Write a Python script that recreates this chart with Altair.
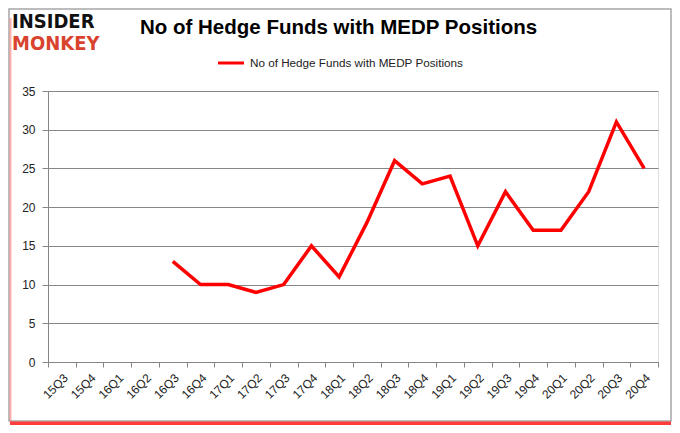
import altair as alt
import pandas as pd

quarters = ["15Q3", "15Q4", "16Q1", "16Q2", "16Q3", "16Q4", "17Q1", "17Q2", "17Q3",
            "17Q4", "18Q1", "18Q2", "18Q3", "18Q4", "19Q1", "19Q2", "19Q3", "19Q4",
            "20Q1", "20Q2", "20Q3", "20Q4"]
data_quarters = quarters[4:]
funds = [13, 10, 10, 9, 10, 15, 11, 18, 26, 23, 24, 15, 22, 17, 17, 22, 31, 25]
series_name = "No of Hedge Funds with MEDP Positions"
y_ticks = [0, 5, 10, 15, 20, 25, 30, 35]

df = pd.DataFrame({"quarter": data_quarters, "funds": funds})
one = alt.Data(values=[{}])

W, H = 610, 271
PL, PT = 40, 83
OX, OY = PL + 8, PT + 8  # image coords -> plot coords

frame = alt.Chart(one).mark_rect(fillOpacity=0, stroke="#a6a6a6", strokeWidth=1.5, clip=False).encode(
    x=alt.value(-PL + 1), x2=alt.value(W + 13), y=alt.value(-PT + 1), y2=alt.value(H + 59))
left_glow = alt.Chart(one).mark_rule(color="#ff9090", strokeWidth=2, opacity=0.7, clip=False).encode(
    x=alt.value(-PL + 2.5), y=alt.value(-PT + 10), y2=alt.value(H + 60))
shadow = alt.Chart(one).mark_rule(color="#ff1a1a", strokeWidth=4, opacity=0.85, clip=False).encode(
    x=alt.value(-PL + 2), x2=alt.value(W + 13), y=alt.value(H + 61.5))

title = alt.Chart(one).mark_text(text="No of Hedge Funds with MEDP Positions", font="Liberation Sans",
                                 fontWeight="bold", fontSize=20.5, color="black", align="left",
                                 baseline="middle").encode(x=alt.value(140 - OX), y=alt.value(28 - OY))
logo1 = alt.Chart(one).mark_text(text="INSIDER", font="DejaVu Sans Condensed", fontWeight="bold",
                                 fontSize=20, color="#111111", align="left", baseline="middle").encode(
    x=alt.value(12 - OX), y=alt.value(22 - OY))
logo2 = alt.Chart(one).mark_text(text="MONKEY", font="DejaVu Sans Condensed", fontWeight="bold",
                                 fontSize=20, color="#d9432e", align="left", baseline="middle").encode(
    x=alt.value(12 - OX), y=alt.value(44 - OY))

leg_line = alt.Chart(one).mark_rule(color="#ff0000", strokeWidth=3, clip=False).encode(
    x=alt.value(218 - OX), x2=alt.value(244 - OX), y=alt.value(63 - OY))
leg_text = alt.Chart(one).mark_text(text=series_name, font="Liberation Sans", fontSize=11.7,
                                    color="#222222", align="left", baseline="middle").encode(
    x=alt.value(250 - OX), y=alt.value(63 - OY))

line = alt.Chart(df).mark_line(color="#ff0000", strokeWidth=3.5).encode(
    x=alt.X("quarter:N", sort=quarters,
            scale=alt.Scale(type="band", domain=quarters, paddingInner=0, paddingOuter=0),
            axis=alt.Axis(title=None, labelAngle=-45, tickBand="extent", grid=False,
                          domainColor="#868686", tickColor="#868686", tickSize=5,
                          labelFont="Liberation Sans", labelFontSize=12, labelColor="#222222",
                          labelPadding=5)),
    y=alt.Y("funds:Q", scale=alt.Scale(domain=[0, 35], nice=False),
            axis=alt.Axis(title=None, values=y_ticks, grid=True, gridColor="#868686",
                          domainColor="#868686", tickColor="#868686", tickSize=6,
                          labelFont="Liberation Sans", labelFontSize=12, labelColor="#222222",
                          labelPadding=7)),
)

chart = alt.layer(frame, left_glow, shadow, title, logo1, logo2, leg_line, leg_text, line).properties(
    width=W, height=H,
    autosize=alt.AutoSizeParams(type="none"),
    padding={"left": PL, "top": PT, "right": 14, "bottom": 63},
).configure_view(stroke=None).configure(background="white")

chart.save("out.html", embed_options={"renderer": "svg", "actions": False})
